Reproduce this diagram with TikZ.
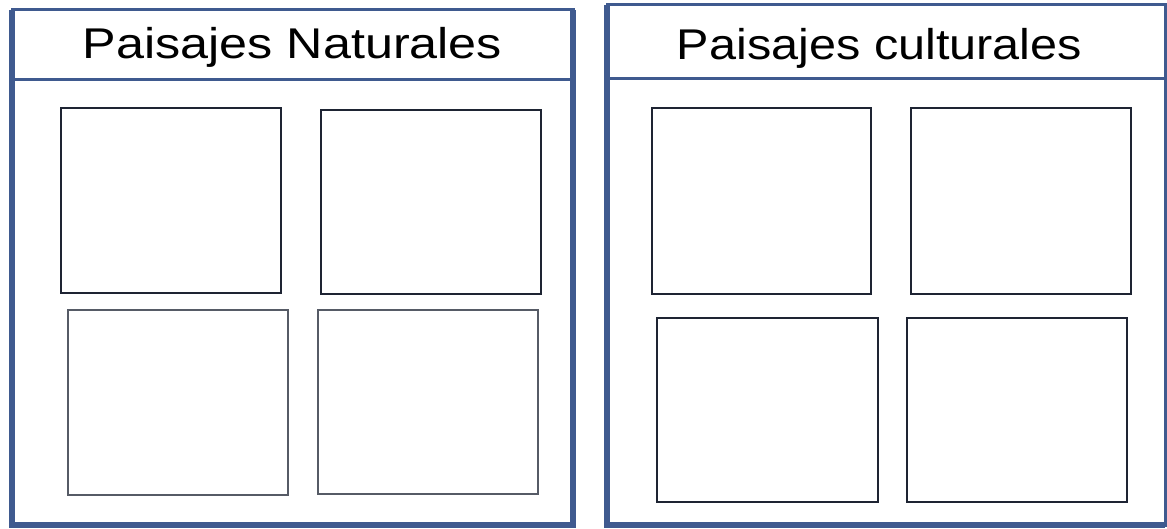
\documentclass[tikz,border=0pt]{standalone}
\usepackage{fontspec}
\setmainfont{Liberation Sans}
\usepackage{tikz}
\usetikzlibrary{positioning}

\definecolor{panelblue}{HTML}{3F5A8F}
\definecolor{boxdark}{HTML}{1E2433}

\begin{document}
\begin{tikzpicture}[
	x=1pt, y=-1pt,
	panel/.style = {draw=panelblue, line width=3pt},
	panelside/.style = {draw=panelblue, line width=6pt},
	photo/.style = {draw=boxdark, line width=1.8pt, inner sep=0pt, minimum width=220pt, minimum height=185pt},
	photolight/.style = {photo, draw=boxdark!75, line width=1.4pt},
	title/.style = {anchor=base, inner sep=0pt, font=\fontsize{43}{50}\selectfont}
  ]
	\useasboundingbox[fill=white] (0,0) rectangle (1167,529);

	% left panel
	\coordinate (nw) at (12,10);
	\coordinate (ne) at (573,10);
	\coordinate (sw) at (12,525);
	\coordinate (se) at (573,525);
	\draw[panel] (nw) rectangle (se);
	\draw[panel] (12,80) -- (573,80);
	\draw[panelside] (nw) -- (sw) -- (se) -- (ne);

	% right panel
	\coordinate (cnw) at (607,5);
	\coordinate (cne) at (1165,5);
	\coordinate (csw) at (607,525);
	\coordinate (cse) at (1165,525);
	\draw[panel] (cnw) rectangle (cse);
	\draw[panel] (607,79) -- (1165,79);
	\draw[panelside] (cnw) -- (csw) -- (cse);

	\node[title] (natural) at (292.5,59) {\scalebox{1.17}[1]{Paisajes Naturales}};
	\node[title] (cultural) at (879.5,60) {\scalebox{1.13}[1]{Paisajes culturales}};

	\node[photo] (nat1) at (171,200.5) {};
	\node[photo, minimum height=184pt] (nat2) at (431,202) {};
	\node[photolight] (nat3) at (178,402.5) {};
	\node[photolight, minimum height=184pt] (nat4) at (428,402) {};

	\node[photo, minimum width=219pt, minimum height=186pt] (cul1) at (761.5,201) {};
	\node[photo, minimum height=186pt] (cul2) at (1021,201) {};
	\node[photo, minimum width=221pt, minimum height=184pt] (cul3) at (767.5,410) {};
	\node[photo, minimum height=184pt] (cul4) at (1017,410) {};

\end{tikzpicture}
\end{document}
